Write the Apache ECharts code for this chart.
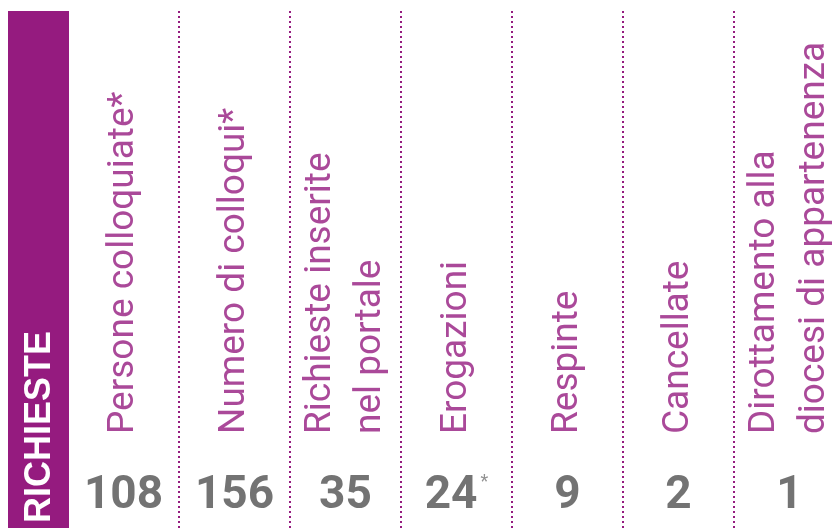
<!DOCTYPE html>
<html>
<head>
<meta charset="utf-8">
<script src="https://cdn.jsdelivr.net/npm/echarts@6/dist/echarts.min.js"></script>
<style>
  html, body { margin: 0; padding: 0; background: #ffffff; overflow: hidden; width: 835px; height: 528px; }
  #chart { width: 845px; height: 528px; }
</style>
</head>
<body>
<div id="chart"></div>
<script>
// ---- data ----
const sectionTitle = 'RICHIESTE';
const categories = [
  'Persone colloquiate*',
  'Numero di colloqui*',
  'Richieste inserite\nnel portale',
  'Erogazioni',
  'Respinte',
  'Cancellate',
  'Dirottamento alla\ndiocesi di appartenenza'
];
const values = [108, 156, 35, 24, 9, 2, 1];
const valueNotes = ['', '', '', '*', '', '', ''];

// ---- layout / style ----
const PURPLE = '#951b7f';
const GREY = '#505050';
const LABEL_ROW = 94;   // rows measured upward from the bottom of the grid (px units on hidden axis)
const NUMBER_ROW = 32;

const chart = echarts.init(document.getElementById('chart'), null, { renderer: 'canvas' });

const option = {
  animation: false,
  backgroundColor: '#ffffff',
  grid: { left: 68, top: 11, bottom: 0, right: 0 },
  xAxis: {
    type: 'category',
    data: categories,
    boundaryGap: true,
    axisLine: { show: false },
    axisTick: { show: false },
    axisLabel: { show: false },
    splitLine: {
      show: true,
      interval: 0,
      lineStyle: { color: PURPLE, type: [2, 3], width: 2 }
    }
  },
  yAxis: {
    type: 'value',
    min: 0,
    max: 517,
    show: false,
    splitLine: { show: false }
  },
  graphic: [
    {
      type: 'rect',
      z: 100,
      shape: { x: 8, y: 11, width: 61, height: 517 },
      style: { fill: PURPLE }
    },
    {
      type: 'text',
      z: 101,
      x: 40,
      y: 523,
      rotation: Math.PI / 2,
      style: {
        text: sectionTitle,
        fill: '#ffffff',
        font: 'bold 36px "Liberation Sans", Roboto, sans-serif',
        align: 'left',
        verticalAlign: 'middle'
      }
    }
  ],
  series: [
    {
      name: 'etichette',
      type: 'scatter',
      silent: true,
      symbolSize: 0,
      data: categories.map((c, i) => [i, LABEL_ROW]),
      label: {
        show: true,
        position: 'inside',
        rotate: 90,
        align: 'left',
        verticalAlign: 'middle',
        formatter: p => categories[p.dataIndex],
        color: PURPLE,
        fontFamily: 'Roboto, "Liberation Sans", sans-serif',
        fontWeight: 'normal',
        fontSize: 37,
        lineHeight: 50
      }
    },
    {
      name: 'valori',
      type: 'scatter',
      silent: true,
      symbolSize: 0,
      data: values.map((v, i) => ({ value: [i, NUMBER_ROW], v: v })),
      label: {
        show: true,
        position: 'inside',
        align: 'center',
        verticalAlign: 'middle',
        formatter: p => '{n|' + values[p.dataIndex] + '}' + (valueNotes[p.dataIndex] ? '{s|' + valueNotes[p.dataIndex] + '}' : ''),
        rich: {
          n: {
            color: GREY,
            fontFamily: 'Roboto, "Liberation Sans", sans-serif',
            fontWeight: 'bold',
            fontSize: 46
          },
          s: {
            color: '#777777',
            fontFamily: 'Roboto, sans-serif',
            fontSize: 18,
            verticalAlign: 'top',
            padding: [0, 0, 26, 3]
          }
        }
      }
    }
  ]
};

chart.setOption(option);
</script>
</body>
</html>
